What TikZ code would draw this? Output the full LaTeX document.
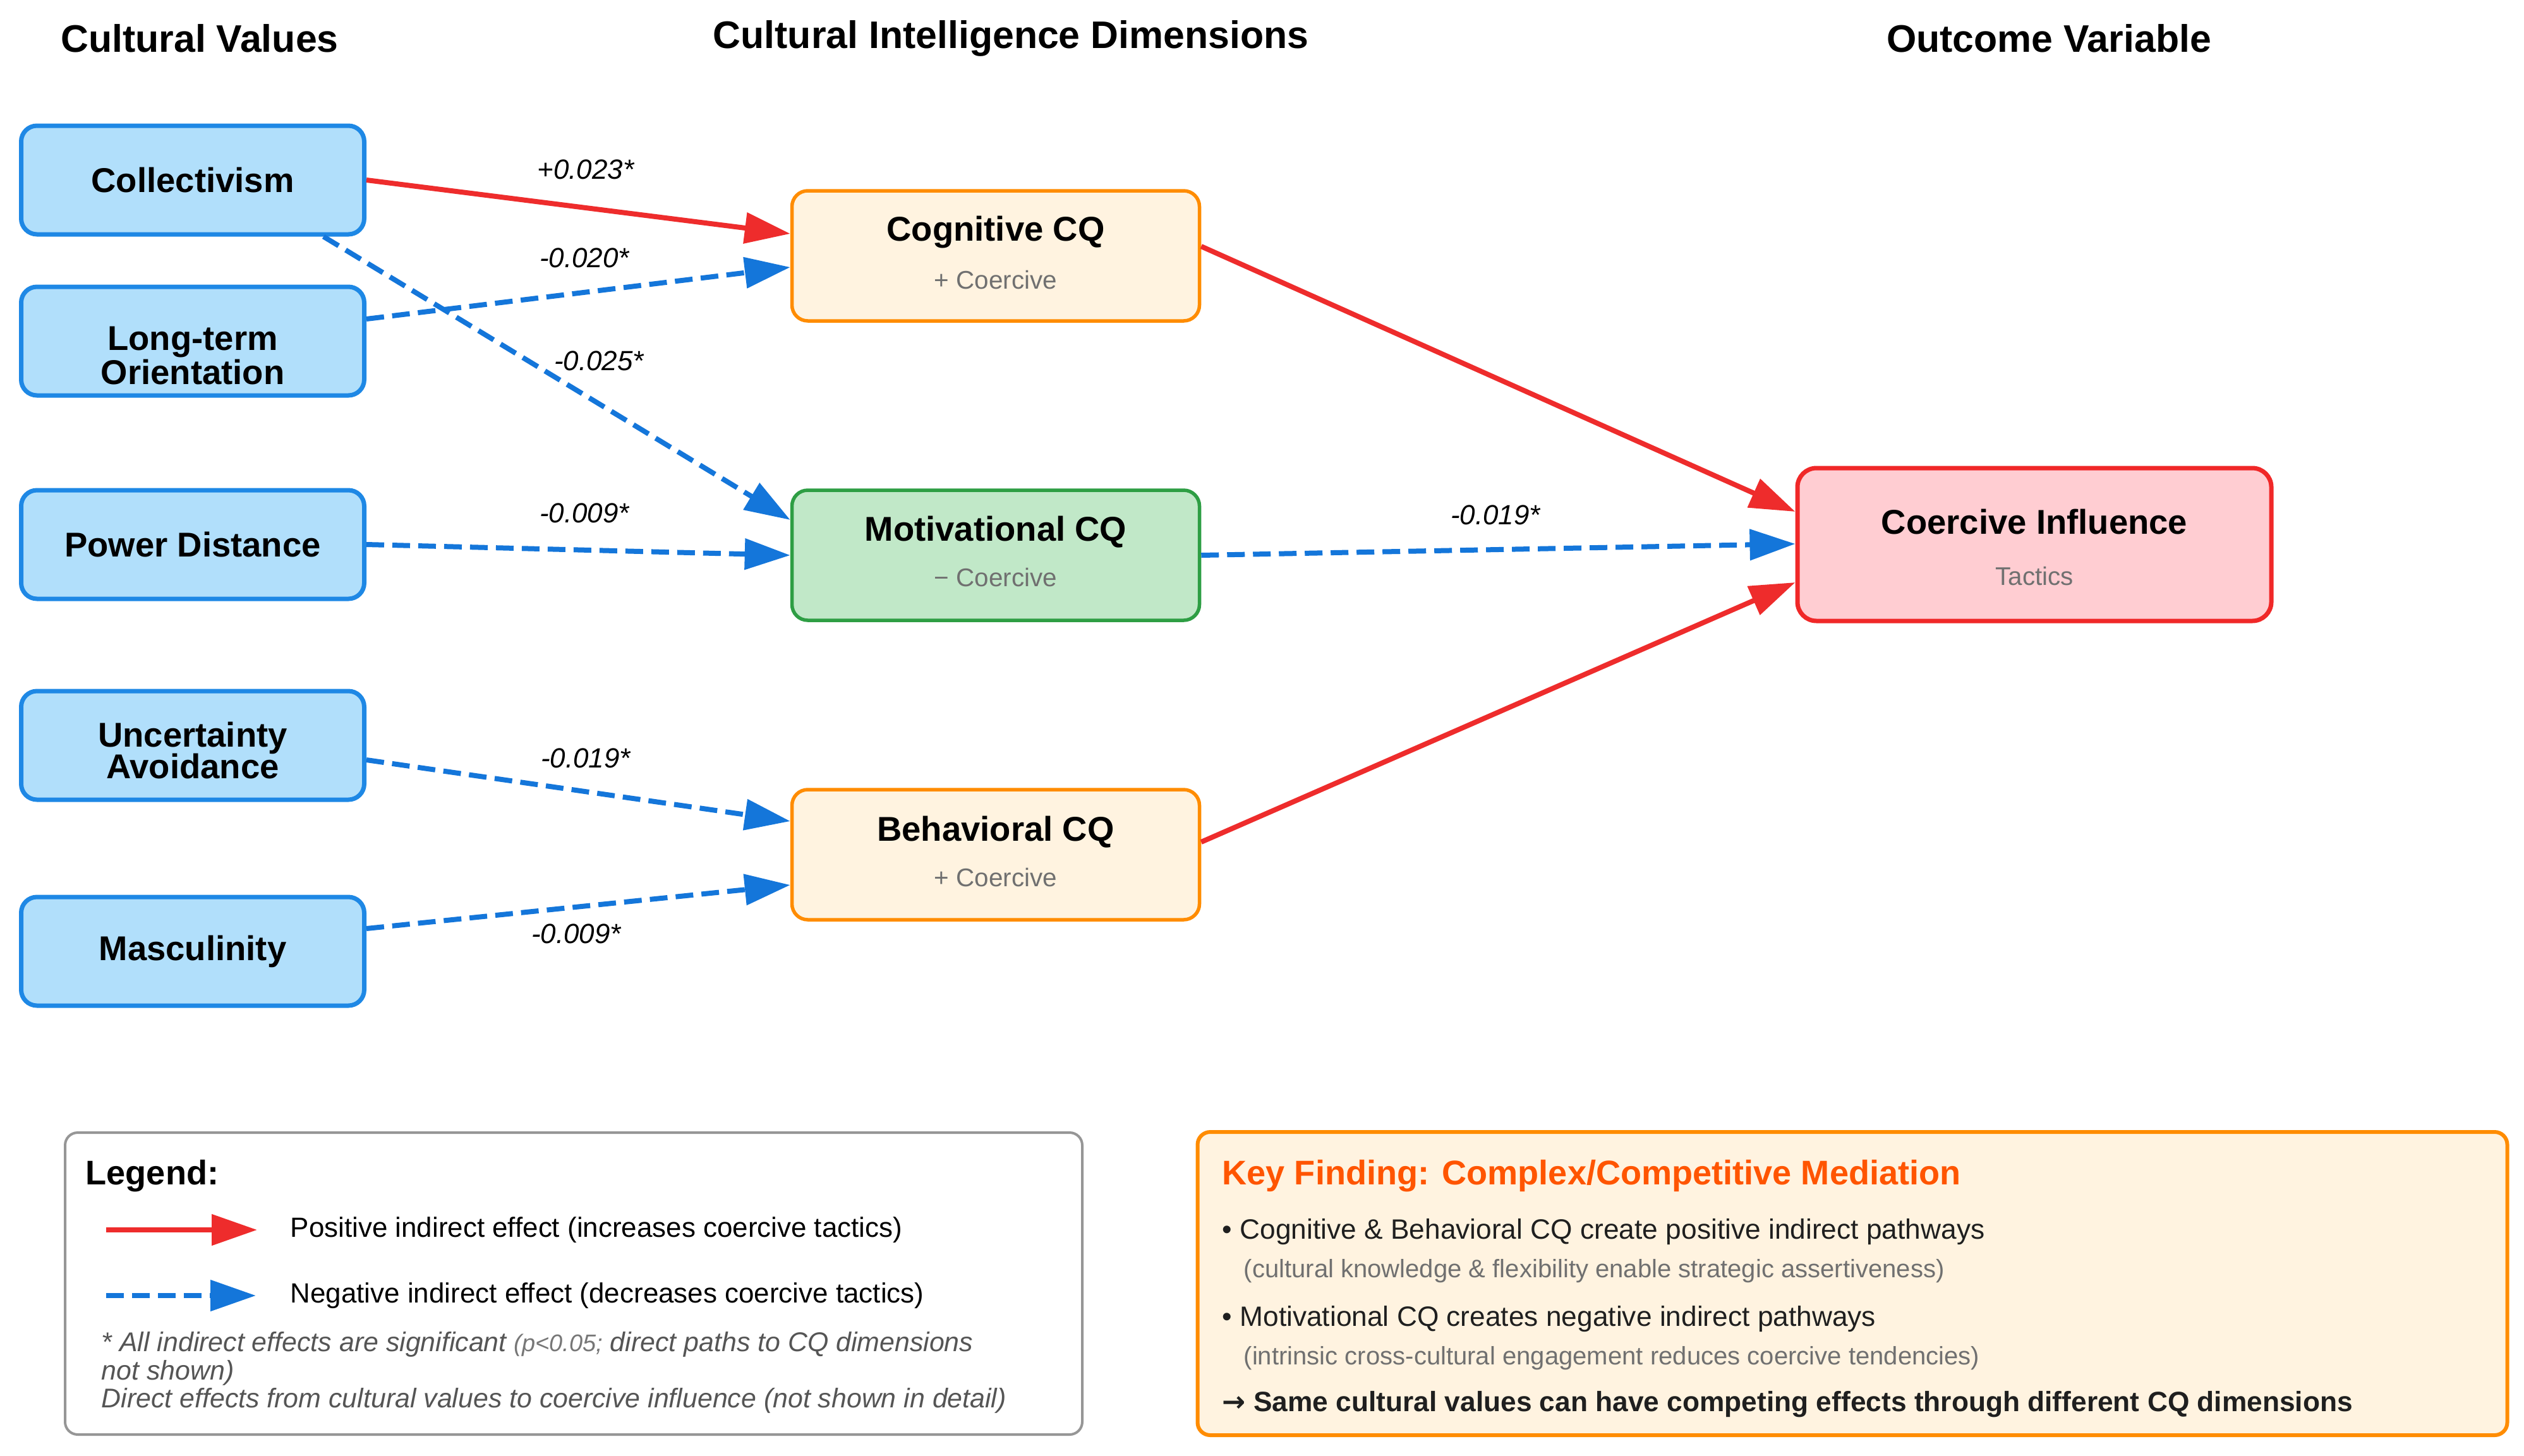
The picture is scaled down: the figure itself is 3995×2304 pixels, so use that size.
\documentclass[tikz,border=0pt]{standalone}
\usepackage{fontspec}
\setmainfont{Liberation Sans}
\newfontfamily\djv{DejaVu Sans}
\usetikzlibrary{arrows.meta,calc}
\definecolor{cvfill}{RGB}{177,223,251}
\definecolor{cvdraw}{RGB}{30,136,229}
\definecolor{posred}{RGB}{238,44,44}
\definecolor{negblue}{RGB}{20,118,218}
\definecolor{orfill}{RGB}{255,243,224}
\definecolor{ordraw}{RGB}{255,140,0}
\definecolor{grfill}{RGB}{193,232,200}
\definecolor{grdraw}{RGB}{46,158,68}
\definecolor{pkfill}{RGB}{255,205,210}
\definecolor{pkdraw}{RGB}{240,40,40}
\definecolor{subgray}{RGB}{112,112,112}
\definecolor{notegray}{RGB}{85,85,85}
\definecolor{keyorange}{RGB}{255,85,0}
\definecolor{legdraw}{RGB}{150,150,150}
\tikzset{
  cv/.style={draw=cvdraw, fill=cvfill, line width=0.7mm, rounded corners=2.5mm,
    minimum width=54.3mm, minimum height=17.2mm, inner sep=0, align=center,
    font=\fontsize{15.5}{14.5}\selectfont\bfseries},
  cvtext/.style={inner sep=0, align=center, font=\fontsize{15.5}{14.5}\selectfont\bfseries},
  cq/.style={line width=0.55mm, rounded corners=2.5mm, minimum width=64.5mm,
    minimum height=20.6mm, inner sep=0},
  cqtitle/.style={inner sep=0, font=\fontsize{15.5}{18}\selectfont\bfseries},
  cqsub/.style={inner sep=0, text=subgray, font=\fontsize{11.5}{14}\selectfont},
  hdr/.style={inner sep=0, font=\fontsize{17.3}{20}\selectfont\bfseries},
  lbl/.style={inner sep=0, font=\fontsize{12.5}{14}\selectfont\itshape},
  posarrow/.style={draw=posred, line width=0.8mm, -{Triangle[length=7.2mm,width=4.8mm]}},
  negarrow/.style={draw=negblue, line width=0.8mm, dash pattern=on 2.8mm off 1.3mm,
    -{Triangle[length=7.2mm,width=4.8mm]}},
  legtxt/.style={inner sep=0, anchor=west, font=\fontsize{12.5}{14}\selectfont},
  notetxt/.style={inner sep=0, anchor=west, text=notegray, font=\fontsize{12.2}{14}\selectfont\itshape},
  keytxt/.style={inner sep=0, anchor=west, text=black!88, font=\fontsize{12.6}{14}\selectfont},
  keysub/.style={inner sep=0, anchor=west, text=subgray, font=\fontsize{11.4}{14}\selectfont},
}
\begin{document}
\begin{tikzpicture}[x=0.1mm, y=-0.1mm]
\useasboundingbox[fill=white] (0,0) rectangle (3995,2304);

% headers
\node[hdr] (h1) at (316,61) {Cultural Values};
\node[hdr] (h2) at (1600,61) {Cultural Intelligence Dimensions};
\node[hdr] (h3) at (3243,61) {Outcome Variable};

% cultural values
\node[cv] (coll) at (305,285) {Collectivism};
\node[cv] (lto) at (305,540) {};
\node[cvtext] (ltot) at (305,563) {Long-term\\Orientation};
\node[cv] (pd) at (305,862) {Power Distance};
\node[cv] (ua) at (305,1180) {};
\node[cvtext] (uat) at (305,1188) {Uncertainty\\Avoidance};
\node[cv] (mas) at (305,1506) {Masculinity};

% CQ dimensions
\node[cq, draw=ordraw, fill=orfill] (cog) at (1576,405) {};
\node[cqtitle] (cogt) at (1576,368) {Cognitive CQ};
\node[cqsub] (cogs) at (1576,443) {+ Coercive};
\node[cq, draw=grdraw, fill=grfill] (mot) at (1576,879) {};
\node[cqtitle] (mott) at (1576,842) {Motivational CQ};
\node[cqsub] (mots) at (1576,914) {− Coercive};
\node[cq, draw=ordraw, fill=orfill] (beh) at (1576,1353) {};
\node[cqtitle] (beht) at (1576,1317) {Behavioral CQ};
\node[cqsub] (behs) at (1576,1389) {+ Coercive};

% outcome
\node[draw=pkdraw, fill=pkfill, line width=0.7mm, rounded corners=3mm,
  minimum width=75mm, minimum height=24.2mm, inner sep=0] (coe) at (3220,862) {};
\node[cqtitle] (coet) at (3220,826) {Coercive Influence};
\node[cqsub] (coes) at (3220,912) {Tactics};

% paths
\draw[posarrow] (coll.east) -- ($(cog.west)+(0,-35)$);
\draw[negarrow] ($(lto.east)+(0,-35)$) -- ($(cog.west)+(0,18)$);
\draw[negarrow] ($(coll.south)+(207,0)$) -- ($(mot.west)+(0,-56)$);
\draw[negarrow] (pd.east) -- (mot.west);
\draw[negarrow] ($(ua.east)+(0,23)$) -- ($(beh.west)+(0,-53)$);
\draw[negarrow] ($(mas.east)+(0,-36)$) -- ($(beh.west)+(0,48)$);
\draw[posarrow] ($(cog.east)+(0,-15)$) -- ($(coe.west)+(0,-52)$);
\draw[negarrow] (mot.east) -- ($(coe.west)+(0,-1)$);
\draw[posarrow] ($(beh.east)+(0,-20)$) -- ($(coe.west)+(0,60)$);

% path labels
\node[lbl] (l1) at (927,268) {+0.023*};
\node[lbl] (l2) at (925,408) {-0.020*};
\node[lbl] (l3) at (948,571) {-0.025*};
\node[lbl] (l4) at (925,812) {-0.009*};
\node[lbl] (l5) at (2367,815) {-0.019*};
\node[lbl] (l6) at (927,1200) {-0.019*};
\node[lbl] (l7) at (912,1478) {-0.009*};

% legend
\node[draw=legdraw, fill=white, line width=0.4mm, rounded corners=2mm,
  minimum width=161mm, minimum height=47.8mm, inner sep=0] (leg) at (908,2032) {};
\node[inner sep=0, anchor=west, font=\fontsize{15.4}{18}\selectfont\bfseries] (legt) at (135,1862) {Legend:};
\coordinate (lpa) at (168,1947);
\coordinate (lpb) at (407,1947);
\draw[posarrow] (lpa) -- (lpb);
\node[legtxt] (lpt) at (459,1947) {Positive indirect effect (increases coercive tactics)};
\coordinate (lna) at (168,2051);
\coordinate (lnb) at (405,2051);
\draw[negarrow] (lna) -- (lnb);
\node[legtxt] (lnt) at (459,2051) {Negative indirect effect (decreases coercive tactics)};
\node[notetxt] (n1) at (160,2128) {* All indirect effects are significant {\fontsize{10.8}{13}\selectfont\color{notegray!80}(p<0.05;} direct paths to CQ dimensions};
\node[notetxt] (n2) at (160,2173) {not shown)};
\node[notetxt] (n3) at (160,2217) {Direct effects from cultural values to coercive influence (not shown in detail)};

% key finding
\node[draw=ordraw, fill=orfill, line width=0.6mm, rounded corners=2mm,
  minimum width=207.3mm, minimum height=48mm, inner sep=0] (key) at (2932,2032) {};
\node[inner sep=0, anchor=west, text=keyorange, font=\fontsize{15.4}{18}\selectfont\bfseries] (kt) at (1934,1862) {Key Finding: Complex/Competitive Mediation};
\node[keytxt] (k1) at (1934,1950) {• Cognitive \& Behavioral CQ create positive indirect pathways};
\node[keysub] (k1s) at (1968,2012) {(cultural knowledge \& flexibility enable strategic assertiveness)};
\node[keytxt] (k2) at (1934,2088) {• Motivational CQ creates negative indirect pathways};
\node[keysub] (k2s) at (1968,2150) {(intrinsic cross-cultural engagement reduces coercive tendencies)};
\node[keytxt, font=\fontsize{12.6}{14}\selectfont\bfseries] (k3) at (1934,2223) {{\djv →} Same cultural values can have competing effects through different CQ dimensions};
\end{tikzpicture}
\end{document}
